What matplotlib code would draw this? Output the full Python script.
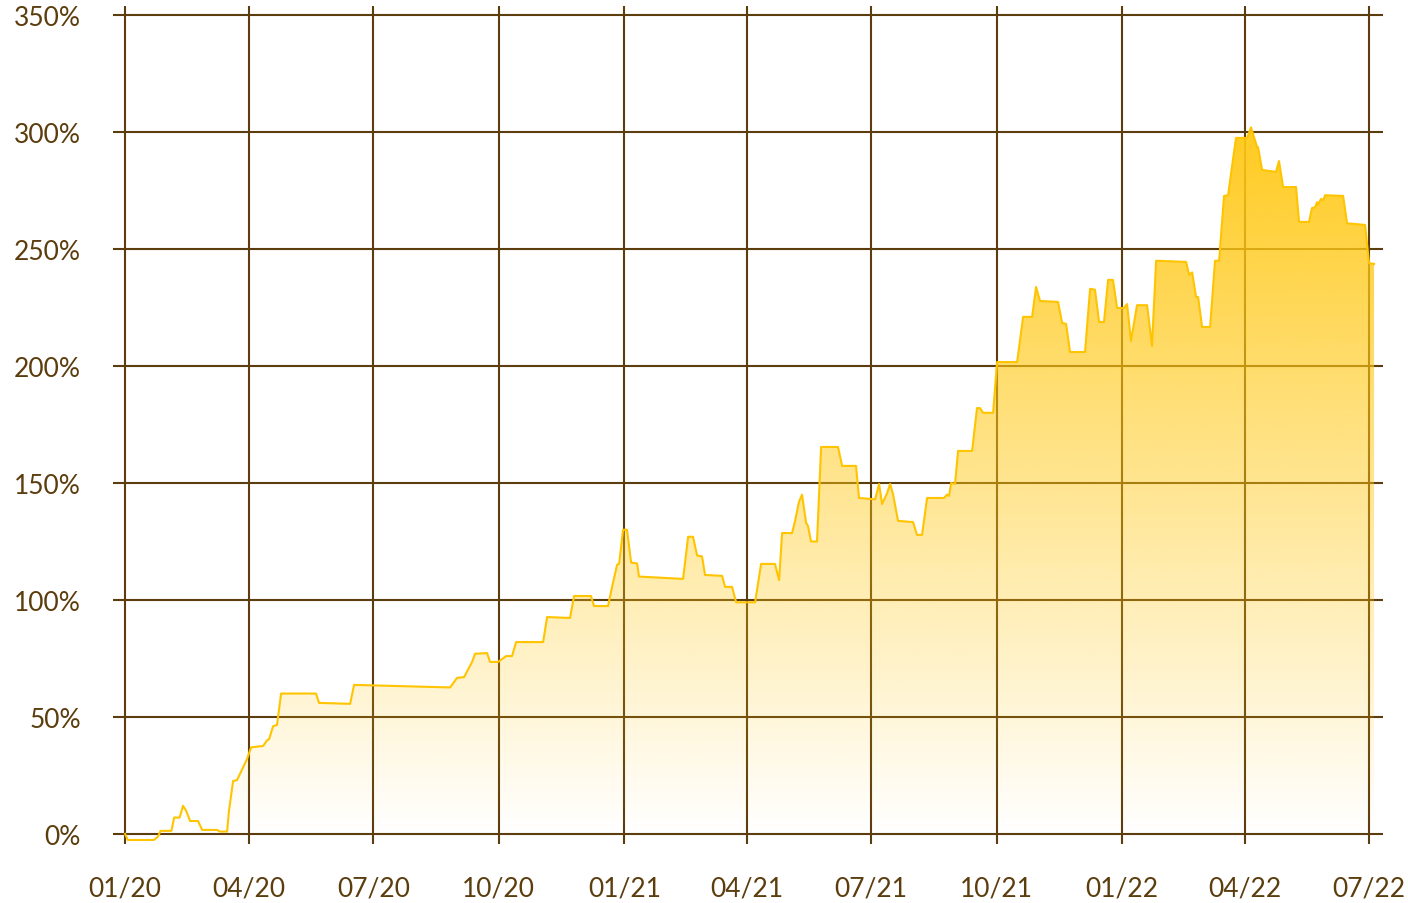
import numpy as np
import pandas as pd
import matplotlib
matplotlib.use('Agg')
import matplotlib.pyplot as plt
import matplotlib.dates as mdates
from matplotlib.colors import to_rgb

# gün (2020-01-01'den itibaren) ve getiri (%)
start = pd.Timestamp('2020-01-01')
days = [0, 2, 21, 24, 26, 34, 36, 40, 42.5, 44.7, 47.7, 53.5, 56.5, 67.4, 69.6, 74.8,
        76.2, 79.2, 82.1, 89.4, 92.4, 101.2, 104.1, 105.6, 108.5, 111.4, 114.4, 140.0,
        142.2, 165.0, 167.9, 238.3, 243.4, 248.5, 254.4, 256.6, 265.4, 267.6, 273.5,
        279.3, 283.7, 286.7, 306.5, 309.4, 326.2, 329.2, 341.6, 343.8, 354.1, 357.0,
        360.7, 362.2, 365.1, 368.0, 371.0, 375.4, 376.8, 409.1, 412.8, 416.4, 419.4,
        423.0, 425.2, 437.7, 439.9, 445.0, 448.0, 461.9, 466.3, 476.5, 479.5, 481.7,
        489.0, 491.2, 494.1, 496.3, 499.3, 500.7, 502.9, 507.3, 510.3, 522.7, 525.7,
        535.9, 538.1, 549.9, 552.8, 555.0, 558.7, 560.9, 563.0, 566.7, 577.7, 580.6,
        584.3, 588.0, 600.4, 602.6, 604.1, 605.6, 608.5, 610.7, 621.0, 624.6, 626.8,
        629.0, 636.4, 639.3, 654.0, 658.4, 665.0, 667.9, 670.8, 684.0, 687.0, 689.9,
        692.8, 703.8, 707.5, 711.1, 714.1, 717.7, 720.7, 724.3, 727.3, 732.4, 734.6,
        737.5, 741.9, 749.3, 752.9, 755.9, 777.9, 780.1, 782.3, 785.2, 786.7, 789.6,
        795.5, 799.1, 802.1, 805.7, 808.7, 811.6, 814.5, 822.6, 825.5, 829.9, 830.6,
        833.6, 843.8, 846.0, 849.0, 858.5, 860.7, 868.0, 870.2, 872.4, 873.9, 874.6,
        876.8, 878.3, 879.8, 893.0, 895.9, 909.1, 912.0, 915.7]
returns = [0, -2.6, -2.6, -1.3, 1.3, 1.3, 7, 7, 12, 10, 5.5, 5.5, 1.7, 1.7, 1, 1,
           10, 22.6, 23, 32, 37, 37.6, 40, 40.5, 46, 46.6, 60, 60,
           56, 55.6, 63.7, 62.6, 66.7, 67, 73.5, 77, 77.3, 73.5, 73.5,
           76, 76, 82, 82, 92.7, 92.3, 101.7, 101.7, 97.4, 97.4, 105.5,
           115, 115.5, 130, 130, 116, 115.6, 110, 109, 127, 127, 119,
           118.6, 110.7, 110.3, 105.6, 105.6, 99, 99, 115.4, 115.4, 108.5, 128.6,
           128.6, 133.8, 142, 145, 133, 131.6, 125, 125, 165.4, 165.4, 157.3,
           157.3, 143.6, 143, 149.6, 141, 145.7, 149.6, 145.3, 133.8, 133.3, 127.8,
           127.8, 143.6, 143.6, 145, 144.5, 150, 149.6, 163.7, 163.7, 182, 182,
           180, 180, 201.7, 201.7, 221, 221, 233.8, 227.8, 227.4, 218.4, 218,
           206, 206, 233, 232.6, 218.8, 218.8, 236.8, 236.8, 224.8, 224.8, 226.5,
           210.7, 226, 226, 208.6, 245, 244.5, 239, 240, 229.5, 229.5, 216.7,
           216.7, 245, 245, 272.7, 273, 285.5, 297.5, 297.5, 302, 293.6, 293.6,
           283.8, 283, 287.6, 276.5, 276.5, 261.6, 261.6, 267.5, 267.8, 270, 269,
           271.4, 270.8, 273, 272.7, 261, 260.3, 244, 243.6]

tick_dates = ['2020-01-01', '2020-04-01', '2020-07-01', '2020-10-01', '2021-01-01',
              '2021-04-01', '2021-07-01', '2021-10-01', '2022-01-01', '2022-04-01',
              '2022-07-01']
tick_labels = ['01/20', '04/20', '07/20', '10/20', '01/21', '04/21', '07/21',
               '10/21', '01/22', '04/22', '07/22']
y_ticks = [0, 50, 100, 150, 200, 250, 300, 350]

brown = '#5C3D0E'
yellow = '#FFC400'

plt.rcParams['font.family'] = ['Lato', 'DejaVu Sans']

dates = start + pd.to_timedelta(days, unit='D')
x = mdates.date2num(dates.to_pydatetime())

fig = plt.figure(figsize=(14.08, 9.04), dpi=100)
ax = fig.add_axes([0.0803, 0.0653, 0.9020, 0.9270])

x0 = mdates.date2num(start) - 8.8
x1 = mdates.date2num(start) + 922.3
ax.set_xlim(x0, x1)
ax.set_ylim(-4.3, 353.9)

# ızgara
for t in tick_dates:
    ax.axvline(mdates.date2num(pd.Timestamp(t)), color=brown, lw=1.5, zorder=1)
for v in y_ticks:
    ax.axhline(v, color=brown, lw=1.5, zorder=1)

# gradyan dolgu
poly = ax.fill_between(x, returns, -4.3, facecolor='none', edgecolor='none')
ny = 400
yy = np.linspace(-4.3, 353.9, ny)
alpha = np.clip(yy / 302 * 0.95, 0, 0.95)
rgba = np.zeros((ny, 2, 4))
rgba[..., :3] = to_rgb('#FFC814')
rgba[..., 3] = alpha[:, None]
im = ax.imshow(rgba, extent=[x0, x1, -4.3, 353.9], origin='lower',
               aspect='auto', interpolation='bilinear', zorder=2)
im.set_clip_path(poly.get_paths()[0], transform=ax.transData)

ax.plot(x, returns, color=yellow, lw=1.5, solid_joinstyle='round', zorder=3)

ax.set_xticks([mdates.date2num(pd.Timestamp(t)) for t in tick_dates])
ax.set_xticklabels(tick_labels)
ax.set_yticks(y_ticks)
ax.set_yticklabels([f'{v}%' for v in y_ticks])
ax.tick_params(length=0, labelsize=19, labelcolor=brown)
ax.tick_params(axis='x', pad=23)
ax.tick_params(axis='y', pad=23)
for s in ax.spines.values():
    s.set_visible(False)

fig.savefig('out.png', dpi=100)
